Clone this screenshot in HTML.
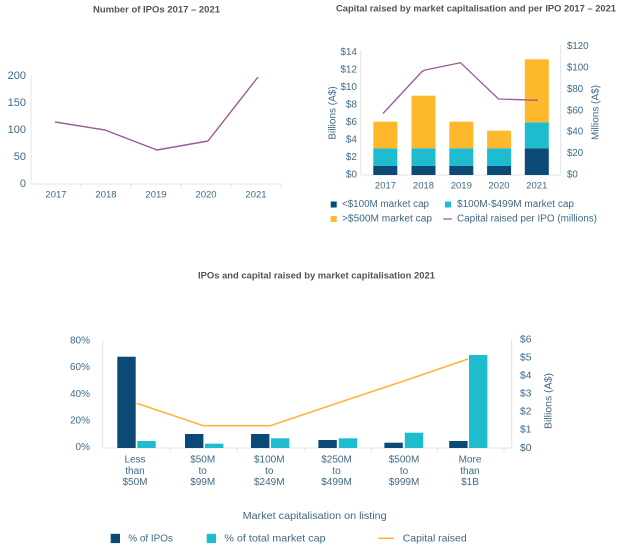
<!DOCTYPE html>
<html>
<head>
<meta charset="utf-8">
<style>
  html, body { margin: 0; padding: 0; background: #ffffff; }
  svg { display: block; }
  text { font-family: "Liberation Sans", sans-serif; }
  .t { fill: #505357; font-weight: bold; font-size: 9.5px; }
  .ax { fill: #3f6888; }
</style>
</head>
<body>
<svg width="625" height="553" viewBox="0 0 625 553" xmlns="http://www.w3.org/2000/svg">
  <rect width="625" height="553" fill="#ffffff"/>

  <!-- ================= Chart 1 ================= -->
  <text class="t" x="156.5" y="10" text-anchor="middle" dominant-baseline="central" textLength="127" lengthAdjust="spacingAndGlyphs">Number of IPOs 2017 – 2021</text>
  <g stroke="#e3e3e3" stroke-width="1" fill="none">
    <line x1="31" y1="75" x2="31" y2="184"/>
    <line x1="31" y1="184" x2="281" y2="184"/>
    <line x1="81" y1="184" x2="81" y2="188"/>
    <line x1="131" y1="184" x2="131" y2="188"/>
    <line x1="181" y1="184" x2="181" y2="188"/>
    <line x1="231" y1="184" x2="231" y2="188"/>
    <line x1="281" y1="184" x2="281" y2="188"/>
  </g>
  <g class="ax" font-size="11" text-anchor="end" dominant-baseline="central">
    <text x="26" y="76">200</text>
    <text x="26" y="103">150</text>
    <text x="26" y="130">100</text>
    <text x="26" y="157">50</text>
    <text x="26" y="184">0</text>
  </g>
  <g class="ax" font-size="9.5" text-anchor="middle" dominant-baseline="central">
    <text x="56" y="195">2017</text>
    <text x="106" y="195">2018</text>
    <text x="156" y="195">2019</text>
    <text x="206" y="195">2020</text>
    <text x="256" y="195">2021</text>
  </g>
  <polyline points="55,122 105,130 157,150 208,141 258,77" fill="none" stroke="#9d5b94" stroke-width="1.4" stroke-linejoin="round"/>

  <!-- ================= Chart 2 ================= -->
  <text class="t" x="476" y="9" text-anchor="middle" dominant-baseline="central" textLength="280" lengthAdjust="spacingAndGlyphs">Capital raised by market capitalisation and per IPO 2017 – 2021</text>
  <g stroke="#e3e3e3" stroke-width="1" fill="none">
    <line x1="360.7" y1="50" x2="360.7" y2="175"/>
    <line x1="560.7" y1="45" x2="560.7" y2="175"/>
    <line x1="360.7" y1="175" x2="560.7" y2="175"/>
  </g>
  <g class="ax" font-size="10" text-anchor="end" dominant-baseline="central">
    <text x="357" y="52.5">$14</text>
    <text x="357" y="70">$12</text>
    <text x="357" y="87.5">$10</text>
    <text x="357" y="105">$8</text>
    <text x="357" y="122.5">$6</text>
    <text x="357" y="140">$4</text>
    <text x="357" y="157.5">$2</text>
    <text x="357" y="175">$0</text>
  </g>
  <g class="ax" font-size="9.7" text-anchor="start" dominant-baseline="central">
    <text x="567" y="46.7">$120</text>
    <text x="567" y="68">$100</text>
    <text x="567" y="89.5">$80</text>
    <text x="567" y="110.8">$60</text>
    <text x="567" y="132.2">$40</text>
    <text x="567" y="153.6">$20</text>
    <text x="567" y="175">$0</text>
  </g>
  <text class="ax" font-size="10" text-anchor="middle" dominant-baseline="central" transform="translate(333,113) rotate(-90)">Billions (A$)</text>
  <text class="ax" font-size="10" text-anchor="middle" dominant-baseline="central" transform="translate(596,112.5) rotate(-90)">Millions (A$)</text>

  <!-- bars -->
  <g>
    <!-- 2017 -->
    <rect x="373.3" y="166" width="24" height="9" fill="#0b4a76"/>
    <rect x="373.3" y="148.3" width="24" height="17.7" fill="#1fbcd0"/>
    <rect x="373.3" y="121.7" width="24" height="26.6" fill="#fdb92b"/>
    <!-- 2018 -->
    <rect x="411.5" y="166" width="24" height="9" fill="#0b4a76"/>
    <rect x="411.5" y="148.3" width="24" height="17.7" fill="#1fbcd0"/>
    <rect x="411.5" y="95.7" width="24" height="52.6" fill="#fdb92b"/>
    <!-- 2019 -->
    <rect x="449.3" y="166" width="24" height="9" fill="#0b4a76"/>
    <rect x="449.3" y="148.3" width="24" height="17.7" fill="#1fbcd0"/>
    <rect x="449.3" y="121.7" width="24" height="26.6" fill="#fdb92b"/>
    <!-- 2020 -->
    <rect x="487.1" y="166" width="24" height="9" fill="#0b4a76"/>
    <rect x="487.1" y="148.3" width="24" height="17.7" fill="#1fbcd0"/>
    <rect x="487.1" y="130.7" width="24" height="17.6" fill="#fdb92b"/>
    <!-- 2021 -->
    <rect x="524.8" y="148.3" width="24" height="26.7" fill="#0b4a76"/>
    <rect x="524.8" y="122.3" width="24" height="26" fill="#1fbcd0"/>
    <rect x="524.8" y="59.3" width="24" height="63" fill="#fdb92b"/>
  </g>
  <polyline points="383,113.5 422,71.5 425,70 460.5,62.7 498.5,99 538,100.3" fill="none" stroke="#9d5b94" stroke-width="1.3" stroke-linejoin="round"/>
  <g class="ax" font-size="9.5" text-anchor="middle" dominant-baseline="central">
    <text x="385.5" y="186">2017</text>
    <text x="423.5" y="186">2018</text>
    <text x="461.3" y="186">2019</text>
    <text x="499" y="186">2020</text>
    <text x="536.8" y="186">2021</text>
  </g>
  <!-- legend chart 2 -->
  <rect x="330.7" y="201.5" width="6" height="6" fill="#0b4a76"/>
  <text class="ax" x="342" y="204.5" font-size="10" dominant-baseline="central" textLength="87" lengthAdjust="spacingAndGlyphs">&lt;$100M market cap</text>
  <rect x="445" y="201.5" width="6" height="6" fill="#1fbcd0"/>
  <text class="ax" x="457" y="204.5" font-size="10" dominant-baseline="central" textLength="117" lengthAdjust="spacingAndGlyphs">$100M-$499M market cap</text>
  <rect x="330.7" y="216" width="6" height="6" fill="#fdb92b"/>
  <text class="ax" x="342" y="219" font-size="10" dominant-baseline="central" textLength="90" lengthAdjust="spacingAndGlyphs">&gt;$500M market cap</text>
  <line x1="443.3" y1="219" x2="451.7" y2="219" stroke="#9d5b94" stroke-width="1.3"/>
  <text class="ax" x="457" y="219" font-size="10" dominant-baseline="central" textLength="140" lengthAdjust="spacingAndGlyphs">Capital raised per IPO (millions)</text>

  <!-- ================= Chart 3 ================= -->
  <text class="t" x="316.5" y="276" text-anchor="middle" dominant-baseline="central" textLength="237" lengthAdjust="spacingAndGlyphs">IPOs and capital raised by market capitalisation 2021</text>
  <g stroke="#e3e3e3" stroke-width="1" fill="none">
    <line x1="102.7" y1="340" x2="102.7" y2="448"/>
    <line x1="511.7" y1="339" x2="511.7" y2="448"/>
    <line x1="102.7" y1="448" x2="511.7" y2="448"/>
    <line x1="170" y1="448" x2="170" y2="452"/>
    <line x1="237" y1="448" x2="237" y2="452"/>
    <line x1="305" y1="448" x2="305" y2="452"/>
    <line x1="371.5" y1="448" x2="371.5" y2="452"/>
    <line x1="437.5" y1="448" x2="437.5" y2="452"/>
    <line x1="504" y1="448" x2="504" y2="452"/>
  </g>
  <g class="ax" font-size="10" text-anchor="end" dominant-baseline="central">
    <text x="90" y="341">80%</text>
    <text x="90" y="367.7">60%</text>
    <text x="90" y="394.3">40%</text>
    <text x="90" y="421">20%</text>
    <text x="90" y="447.7">0%</text>
  </g>
  <g class="ax" font-size="10.3" text-anchor="start" dominant-baseline="central">
    <text x="520" y="340">$6</text>
    <text x="520" y="358">$5</text>
    <text x="520" y="376">$4</text>
    <text x="520" y="394.2">$3</text>
    <text x="520" y="412.2">$2</text>
    <text x="520" y="430.2">$1</text>
    <text x="520" y="448.3">$0</text>
  </g>
  <text class="ax" font-size="10.5" text-anchor="middle" dominant-baseline="central" transform="translate(548.3,401) rotate(-90)">Billions (A$)</text>

  <!-- bars chart 3 -->
  <g>
    <rect x="117.3" y="356.7" width="18.4" height="91.3" fill="#0b4a76"/>
    <rect x="137.3" y="441" width="18.4" height="7" fill="#1fbcd0"/>

    <rect x="185" y="434" width="18.4" height="14" fill="#0b4a76"/>
    <rect x="205" y="443.7" width="18.4" height="4.3" fill="#1fbcd0"/>

    <rect x="251" y="434" width="18.4" height="14" fill="#0b4a76"/>
    <rect x="271" y="438.3" width="18.4" height="9.7" fill="#1fbcd0"/>

    <rect x="318.4" y="440" width="18.4" height="8" fill="#0b4a76"/>
    <rect x="338.8" y="438.3" width="18.4" height="9.7" fill="#1fbcd0"/>

    <rect x="384.4" y="442.7" width="18.4" height="5.3" fill="#0b4a76"/>
    <rect x="404.8" y="432.7" width="18.4" height="15.3" fill="#1fbcd0"/>

    <rect x="449.2" y="441" width="18.4" height="7" fill="#0b4a76"/>
    <rect x="469" y="355" width="18.4" height="93" fill="#1fbcd0"/>
  </g>
  <polyline points="136.5,403.3 203.5,425.7 270.2,425.7 337.8,403 403.8,381 468,359" fill="none" stroke="#fbb634" stroke-width="1.6" stroke-linejoin="round"/>

  <g class="ax" font-size="10" text-anchor="middle" dominant-baseline="central">
    <text x="135" y="460">Less</text><text x="135" y="471.3">than</text><text x="135" y="482.7">$50M</text>
    <text x="202.7" y="460">$50M</text><text x="202.7" y="471.3">to</text><text x="202.7" y="482.7">$99M</text>
    <text x="269.3" y="460">$100M</text><text x="269.3" y="471.3">to</text><text x="269.3" y="482.7">$249M</text>
    <text x="336.5" y="460">$250M</text><text x="336.5" y="471.3">to</text><text x="336.5" y="482.7">$499M</text>
    <text x="404" y="460">$500M</text><text x="404" y="471.3">to</text><text x="404" y="482.7">$999M</text>
    <text x="470" y="460">More</text><text x="470" y="471.3">than</text><text x="470" y="482.7">$1B</text>
  </g>
  <text class="ax" x="314.7" y="516" font-size="10.5" text-anchor="middle" dominant-baseline="central" textLength="144" lengthAdjust="spacingAndGlyphs">Market capitalisation on listing</text>

  <!-- legend chart 3 -->
  <rect x="110.7" y="533.8" width="9.3" height="9.3" fill="#0b4a76"/>
  <text class="ax" x="128.3" y="538.5" font-size="10.5" dominant-baseline="central" textLength="44.7" lengthAdjust="spacingAndGlyphs">% of IPOs</text>
  <rect x="206.7" y="533.8" width="9.3" height="9.3" fill="#1fbcd0"/>
  <text class="ax" x="224.3" y="538.5" font-size="10.5" dominant-baseline="central" textLength="101.4" lengthAdjust="spacingAndGlyphs">% of total market cap</text>
  <line x1="378.3" y1="538.3" x2="394" y2="538.3" stroke="#fbb634" stroke-width="1.6"/>
  <text class="ax" x="402.7" y="538.5" font-size="10.5" dominant-baseline="central" textLength="64" lengthAdjust="spacingAndGlyphs">Capital raised</text>
</svg>
</body>
</html>
